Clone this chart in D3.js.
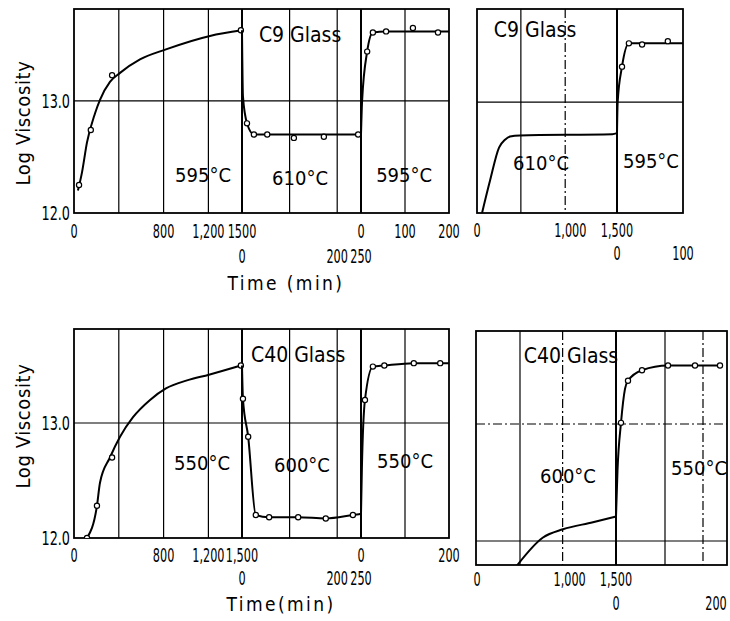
<!DOCTYPE html>
<html>
<head>
<meta charset="utf-8">
<script src="https://cdn.jsdelivr.net/npm/d3@7"></script>
<style>
  body { margin: 0; background: #fff; }
  text { font-family: 'DejaVu Sans Condensed', 'DejaVu Sans', sans-serif; fill: #000; }
</style>
</head>
<body>
<svg id="chart" width="730" height="621"></svg>
<script>

// ---- C9 glass, left panel: 595C -> 610C -> 595C  (time in min, log viscosity)
var c9HoldCurve = [[35, 12.2], [71, 12.36], [116, 12.63], [188, 12.89], [232, 13.01], [321, 13.17],
  [411, 13.25], [589, 13.37], [821, 13.46], [1214, 13.58], [1500, 13.63]];
var c9HoldPts = [[45, 12.25], [150, 12.74], [340, 13.23], [1490, 13.63]];
var c9UpCurve = [[0, 13.63], [2, 13.04], [10.5, 12.8], [25, 12.7], [250, 12.7]];
var c9UpPts = [[10.5, 12.8], [25, 12.7], [53, 12.7], [109, 12.67], [172, 12.68], [244, 12.7]];
var c9DownCurve = [[0, 12.7], [2.5, 13.0], [14, 13.44], [27, 13.61], [57, 13.62], [200, 13.62]];
var c9DownPts = [[14, 13.44], [27, 13.61], [57, 13.62], [118, 13.65], [175, 13.61]];

// ---- C9 glass, right panel: 610C -> 595C
var c9RHoldCurve = [[54, 12.0], [139, 12.29], [236, 12.59], [300, 12.66], [354, 12.69], [460, 12.7],
  [1450, 12.71], [1500, 12.72]];
var c9RDownCurve = [[0, 12.72], [1, 13.0], [7.6, 13.32], [18, 13.53], [38, 13.53], [100, 13.53]];
var c9RDownPts = [[7.6, 13.32], [18, 13.53], [38, 13.52], [77, 13.55]];

// ---- C40 glass, left panel: 550C -> 600C -> 550C
var c40HoldCurve = [[116, 12.0], [205, 12.28], [232, 12.48], [321, 12.7], [411, 12.88], [527, 13.05],
  [679, 13.2], [821, 13.3], [1009, 13.37], [1205, 13.42], [1490, 13.5]];
var c40HoldPts = [[116, 12.0], [205, 12.28], [340, 12.7], [1490, 13.5]];
var c40UpCurve = [[0, 13.5], [2, 13.21], [13, 12.88], [29, 12.2], [57, 12.18], [118, 12.18], [176, 12.17],
  [233, 12.2], [250, 12.21]];
var c40UpPts = [[2, 13.21], [13, 12.88], [29, 12.2], [57, 12.18], [118, 12.18], [176, 12.17], [233, 12.2]];
var c40DownCurve = [[0, 12.21], [2, 12.6], [9, 13.2], [27, 13.49], [53, 13.5], [120, 13.52], [200, 13.52]];
var c40DownPts = [[9, 13.2], [27, 13.49], [53, 13.5], [120, 13.52], [180, 13.52]];

// ---- C40 glass, right panel: 600C -> 550C
var c40RHoldCurve = [[431, 11.79], [712, 12.03], [928, 12.1], [1251, 12.16], [1500, 12.21]];
var c40RDownCurve = [[0, 12.21], [3, 12.6], [10, 13.01], [18, 13.3], [24, 13.37], [52, 13.46], [104, 13.5], [210, 13.5]];
var c40RDownPts = [[10, 13.01], [24, 13.37], [52, 13.46], [104, 13.5], [158, 13.5], [208, 13.5]];

// ---- tick values / labels
var longTicks = [0, 800, 1200, 1500];
var c9LongLabels = ["0", "800", "1,200", "1500"];
var c40LongLabels = ["0", "800", "1,200", "1,500"];
var midTicks = [0, 200, 250];
var c9ShortTicks = [0, 100, 200];
var c40ShortTicks = [0, 200];
var rightTicks = [0, 1000, 1500];
var rightLabels = ["0", "1,000", "1,500"];
var c9RShortTicks = [0, 100];
var c40RShortTicks = [0, 200];
var yTicks = [13.0, 12.0];

var svg = d3.select("#chart");
var clipId = 0;

function panel(cfg) {
  var g = svg.append("g");
  var y = d3.scaleLinear().domain(cfg.yDomain).range([cfg.bottom, cfg.top]);
  var xs = cfg.segs.map(function(s) {
    return d3.scaleLinear().domain(s.domain).range(s.range);
  });

  clipId += 1;
  g.append("clipPath").attr("id", "clip" + clipId)
    .append("rect").attr("x", cfg.left).attr("y", cfg.top)
    .attr("width", cfg.right - cfg.left).attr("height", cfg.bottom - cfg.top);

  // horizontal grid
  g.selectAll(".hgrid").data(cfg.hgrid).enter().append("line")
    .attr("x1", cfg.left).attr("x2", cfg.right)
    .attr("y1", function(d) { return y(d.v); })
    .attr("y2", function(d) { return y(d.v); })
    .attr("stroke", "#000").attr("stroke-width", 1.2)
    .attr("stroke-dasharray", function(d) { return d.dash ? "9,3,2,3" : null; });

  // vertical grid, segment boundaries are heavier
  g.selectAll(".vgrid").data(cfg.vgrid).enter().append("line")
    .attr("x1", function(d) { return xs[d.s](d.t); })
    .attr("x2", function(d) { return xs[d.s](d.t); })
    .attr("y1", cfg.top).attr("y2", cfg.bottom)
    .attr("stroke", "#000")
    .attr("stroke-width", function(d) { return d.heavy ? 2 : 1.2; })
    .attr("stroke-dasharray", function(d) { return d.dash ? "9,3,2,3" : null; });

  g.append("rect")
    .attr("x", cfg.left).attr("y", cfg.top)
    .attr("width", cfg.right - cfg.left).attr("height", cfg.bottom - cfg.top)
    .attr("fill", "none").attr("stroke", "#000").attr("stroke-width", 1.8);

  var plot = g.append("g").attr("clip-path", "url(#clip" + clipId + ")");
  cfg.series.forEach(function(sr) {
    var line = d3.line()
      .x(function(d) { return xs[sr.s](d[0]); })
      .y(function(d) { return y(d[1]); })
      .curve(d3.curveMonotoneX);
    plot.append("path").datum(sr.curve)
      .attr("d", line)
      .attr("fill", "none").attr("stroke", "#000").attr("stroke-width", 2);
    if (sr.pts) {
      plot.selectAll(null).data(sr.pts).enter().append("circle")
        .attr("cx", function(d) { return xs[sr.s](d[0]); })
        .attr("cy", function(d) { return y(d[1]); })
        .attr("r", 2.6)
        .attr("fill", "#fff").attr("stroke", "#000").attr("stroke-width", 1.2);
    }
  });

  // x tick labels, two rows (narrow digits like the original lettering)
  cfg.ticks.forEach(function(tk) {
    g.selectAll(null).data(tk.values).enter().append("text")
      .attr("transform", function(d) {
        return "translate(" + xs[tk.s](d) + "," + (cfg.bottom + (tk.row == 1 ? cfg.row1 : cfg.row2)) + ") scale(0.66,1)";
      })
      .attr("text-anchor", "middle")
      .style("font-size", "19px")
      .text(function(d, i) { return tk.labels ? tk.labels[i] : String(d); });
  });

  if (cfg.yLabels) {
    g.selectAll(null).data(yTicks).enter().append("text")
      .attr("transform", function(d) { return "translate(" + (cfg.left - 4) + "," + (y(d) + 7) + ") scale(0.75,1)"; })
      .attr("text-anchor", "end")
      .style("font-size", "19px")
      .text(function(d) { return d.toFixed(1); });
    g.append("text")
      .attr("transform", "translate(30," + cfg.yTitleAt + ") rotate(-90)")
      .attr("text-anchor", "middle")
      .style("font-size", "20px").style("letter-spacing", "0.6px")
      .text("Log Viscosity");
  }

  g.selectAll(".note").data(cfg.notes).enter().append("text")
    .attr("x", function(d) { return xs[d.s](d.t); })
    .attr("y", function(d) { return y(d.v); })
    .attr("text-anchor", "middle")
    .style("font-size", function(d) { return d.big ? "21px" : "20px"; })
    .text(function(d) { return d.text; });

  if (cfg.xTitle) {
    g.append("text")
      .attr("x", cfg.xTitle[0]).attr("y", cfg.xTitle[1])
      .attr("text-anchor", "middle")
      .style("font-size", "19px").style("letter-spacing", "2.4px")
      .text(cfg.xTitleText);
  }
}

var leftSegs = [
  {domain: [0, 1500], range: [74, 242]},
  {domain: [0, 250], range: [242, 361]},
  {domain: [0, 200], range: [361, 449]}
];
var leftGrid = [
  {s: 0, t: 400}, {s: 0, t: 800}, {s: 0, t: 1200}, {s: 1, t: 0, heavy: true},
  {s: 1, t: 100}, {s: 1, t: 200}, {s: 2, t: 0, heavy: true}, {s: 2, t: 100}
];

panel({
  left: 74, right: 449, top: 9, bottom: 213, yDomain: [12, 13.82],
  segs: leftSegs, vgrid: leftGrid, hgrid: [{v: 13.0}],
  series: [
    {s: 0, curve: c9HoldCurve, pts: c9HoldPts},
    {s: 1, curve: c9UpCurve, pts: c9UpPts},
    {s: 2, curve: c9DownCurve, pts: c9DownPts}
  ],
  ticks: [
    {s: 0, row: 1, values: longTicks, labels: c9LongLabels},
    {s: 1, row: 2, values: midTicks},
    {s: 2, row: 1, values: c9ShortTicks}
  ],
  row1: 25, row2: 50, yLabels: true, yTitleAt: 123,
  notes: [
    {s: 0, t: 1152, v: 12.28, text: "595°C"},
    {s: 1, t: 122, v: 12.25, text: "610°C"},
    {s: 2, t: 98, v: 12.28, text: "595°C"},
    {s: 1, t: 122, v: 13.53, text: "C9 Glass", big: true}
  ],
  xTitle: [286, 290], xTitleText: "Time (min)"
});

panel({
  left: 477, right: 683, top: 9, bottom: 213, yDomain: [12, 13.84],
  segs: [{domain: [0, 1500], range: [477, 617]}, {domain: [0, 100], range: [617, 683]}],
  vgrid: [{s: 0, t: 470}, {s: 0, t: 945, dash: true}, {s: 1, t: 0, heavy: true}],
  hgrid: [{v: 13.0}],
  series: [
    {s: 0, curve: c9RHoldCurve},
    {s: 1, curve: c9RDownCurve, pts: c9RDownPts}
  ],
  ticks: [
    {s: 0, row: 1, values: rightTicks, labels: rightLabels},
    {s: 1, row: 2, values: c9RShortTicks}
  ],
  row1: 24, row2: 47,
  notes: [
    {s: 0, t: 622, v: 13.59, text: "C9 Glass", big: true},
    {s: 0, t: 686, v: 12.39, text: "610°C"},
    {s: 1, t: 51.5, v: 12.41, text: "595°C"}
  ]
});

panel({
  left: 74, right: 449, top: 329, bottom: 538, yDomain: [12, 13.817],
  segs: leftSegs, vgrid: leftGrid, hgrid: [{v: 13.0}],
  series: [
    {s: 0, curve: c40HoldCurve, pts: c40HoldPts},
    {s: 1, curve: c40UpCurve, pts: c40UpPts},
    {s: 2, curve: c40DownCurve, pts: c40DownPts}
  ],
  ticks: [
    {s: 0, row: 1, values: longTicks, labels: c40LongLabels},
    {s: 1, row: 2, values: midTicks},
    {s: 2, row: 1, values: c40ShortTicks}
  ],
  row1: 24, row2: 47, yLabels: true, yTitleAt: 426,
  notes: [
    {s: 0, t: 1143, v: 12.59, text: "550°C"},
    {s: 1, t: 126, v: 12.57, text: "600°C"},
    {s: 2, t: 100, v: 12.61, text: "550°C"},
    {s: 1, t: 118, v: 13.53, text: "C40 Glass", big: true}
  ],
  xTitle: [281, 611], xTitleText: "Time(min)"
});

panel({
  left: 476, right: 727, top: 331, bottom: 565, yDomain: [11.795, 13.795],
  segs: [{domain: [0, 1500], range: [477, 616]}, {domain: [0, 200], range: [616, 716]}],
  vgrid: [{s: 0, t: 464}, {s: 0, t: 924, dash: true}, {s: 1, t: 0, heavy: true},
    {s: 1, t: 98}, {s: 1, t: 174, dash: true}],
  hgrid: [{v: 12.0}, {v: 13.0, dash: true}],
  series: [
    {s: 0, curve: c40RHoldCurve},
    {s: 1, curve: c40RDownCurve, pts: c40RDownPts}
  ],
  ticks: [
    {s: 0, row: 1, values: rightTicks, labels: rightLabels},
    {s: 1, row: 2, values: c40RShortTicks}
  ],
  row1: 21, row2: 45,
  notes: [
    {s: 0, t: 1014, v: 13.52, text: "C40 Glass", big: true},
    {s: 0, t: 982, v: 12.5, text: "600°C"},
    {s: 1, t: 166, v: 12.56, text: "550°C"}
  ]
});

</script>
</body>
</html>
